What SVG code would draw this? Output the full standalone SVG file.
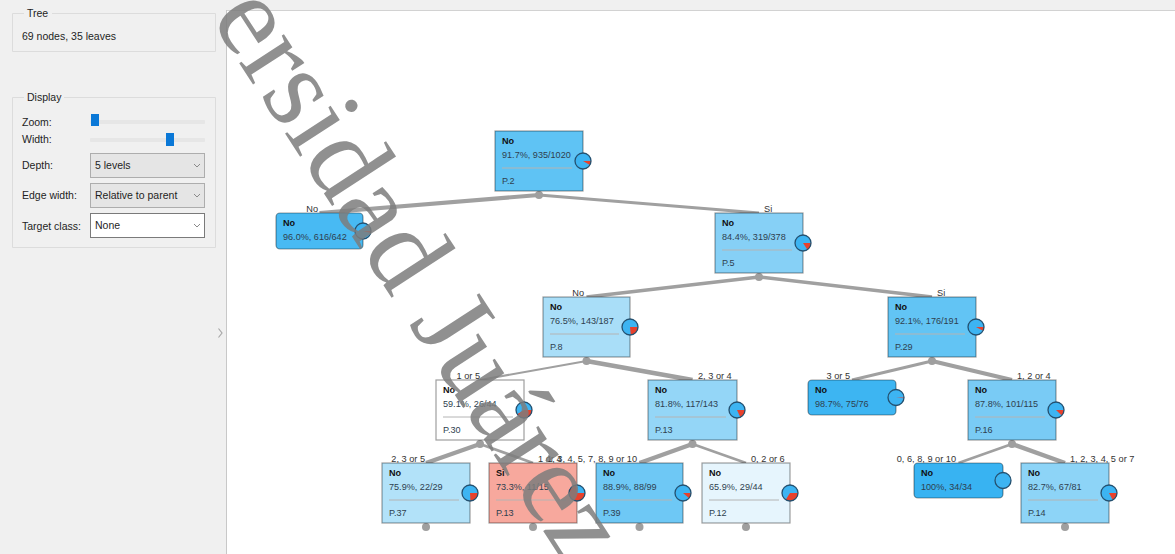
<svg xmlns="http://www.w3.org/2000/svg" width="1175" height="554" viewBox="0 0 1175 554">
<defs>
<style>
.ui{font-family:"Liberation Sans",Arial,sans-serif;font-size:10.5px;fill:#1e1e1e}
.grp{fill:none;stroke:#dcdcdc;stroke-width:1}
.combo{fill:#e5e5e5;stroke:#adadad;stroke-width:1}
.chev{fill:none;stroke:#8a8a8a;stroke-width:1}
.track{fill:#e6e6e6}
.handle{fill:#0a78d7}
.box{stroke:#000;stroke-opacity:0.38;stroke-width:1.2}
.t{font-family:"Liberation Sans",Arial,sans-serif;font-size:9.1px;fill:#2f3f4f}
.tb{font-family:"Liberation Sans",Arial,sans-serif;font-size:9.1px;font-weight:bold;fill:#111}
.sep{stroke:#b4b4b4;stroke-width:1}
.pie{fill:#3db4f2}
.wedge{fill:#e8412c}
.ring{fill:none;stroke:#24506f;stroke-width:1.3}
.edge{stroke:#a0a0a0;stroke-linecap:butt;fill:none}
.dot{fill:#9f9f9f}
.lbl{font-family:"Liberation Sans",Arial,sans-serif;font-size:9.2px;fill:#333}
</style>
</defs>
<rect x="0" y="0" width="1175" height="554" fill="#ffffff"/>
<!-- left panel -->
<g id="panel">
<rect x="0" y="0" width="227" height="554" fill="#f0f0f0"/>
<rect x="227" y="0" width="948" height="10" fill="#f0f0f0"/>
<line x1="227" y1="10.5" x2="1175" y2="10.5" stroke="#d2d2d2"/>
<line x1="226.5" y1="10" x2="226.5" y2="554" stroke="#c8c8c8"/>
<path d="M218.5,328.5 L222,333 L218.5,337.5" fill="none" stroke="#a8a8a8" stroke-width="1.2"/>
<path class="grp" d="M24,13.5 H12.5 V51.5 H215.5 V13.5 H52"/>
<text class="ui" x="27" y="17">Tree</text>
<text class="ui" x="22" y="40">69 nodes, 35 leaves</text>
<path class="grp" d="M24,97.5 H12.5 V247.5 H215.5 V97.5 H64"/>
<text class="ui" x="27" y="101">Display</text>
<text class="ui" x="22" y="126">Zoom:</text>
<rect class="track" x="90" y="120" width="115" height="4" rx="1"/>
<rect class="handle" x="91" y="114" width="8" height="12"/>
<text class="ui" x="22" y="143">Width:</text>
<rect class="track" x="90" y="138" width="115" height="4" rx="1"/>
<rect class="handle" x="166" y="133" width="8" height="13"/>
<text class="ui" x="22" y="169">Depth:</text>
<rect class="combo" x="90.5" y="153.5" width="114" height="24"/>
<text class="ui" x="95" y="169">5 levels</text>
<path class="chev" d="M194,164 L197,167 L200,164"/>
<text class="ui" x="22" y="199">Edge width:</text>
<rect class="combo" x="90.5" y="183.5" width="114" height="24"/>
<text class="ui" x="95" y="199">Relative to parent</text>
<path class="chev" d="M194,194 L197,197 L200,194"/>
<text class="ui" x="22" y="230">Target class:</text>
<rect x="90.5" y="213.5" width="114" height="24" fill="#ffffff" stroke="#7a7a7a"/>
<text class="ui" x="95" y="229">None</text>
<path class="chev" d="M194,224 L197,227 L200,224"/>
</g>
<!-- connectors -->
<g id="connectors">
<line class="edge" x1="539" y1="195" x2="319.5" y2="213" stroke-width="4.1"/>
<line class="edge" x1="539" y1="195" x2="759" y2="213" stroke-width="2.9"/>
<line class="edge" x1="759" y1="277" x2="586.5" y2="297" stroke-width="3.5"/>
<line class="edge" x1="759" y1="277" x2="932" y2="297" stroke-width="3.5"/>
<line class="edge" x1="586.5" y1="361" x2="480" y2="380" stroke-width="2.2"/>
<line class="edge" x1="586.5" y1="361" x2="692.5" y2="380" stroke-width="4.8"/>
<line class="edge" x1="932" y1="361" x2="852" y2="380" stroke-width="3"/>
<line class="edge" x1="932" y1="361" x2="1012" y2="380" stroke-width="4"/>
<line class="edge" x1="480" y1="444" x2="426" y2="463" stroke-width="4.3"/>
<line class="edge" x1="480" y1="444" x2="533" y2="463" stroke-width="2.7"/>
<line class="edge" x1="692.5" y1="444" x2="639.5" y2="463" stroke-width="4.5"/>
<line class="edge" x1="692.5" y1="444" x2="746" y2="463" stroke-width="2.5"/>
<line class="edge" x1="1012" y1="444" x2="958.5" y2="463" stroke-width="2.5"/>
<line class="edge" x1="1012" y1="444" x2="1065" y2="463" stroke-width="4.5"/>
<circle class="dot" cx="539" cy="195" r="4"/>
<circle class="dot" cx="759" cy="277" r="4"/>
<circle class="dot" cx="586.5" cy="361" r="4"/>
<circle class="dot" cx="932" cy="361" r="4"/>
<circle class="dot" cx="480" cy="444" r="4"/>
<circle class="dot" cx="692.5" cy="444" r="4"/>
<circle class="dot" cx="1012" cy="444" r="4"/>
<circle class="dot" cx="426" cy="527" r="4"/>
<circle class="dot" cx="533" cy="527" r="4"/>
<circle class="dot" cx="639.5" cy="527" r="4"/>
<circle class="dot" cx="746" cy="527" r="4"/>
<circle class="dot" cx="1065" cy="527" r="4"/>
<text class="lbl" x="318" y="211.5" text-anchor="end">No</text>
<text class="lbl" x="764" y="211.5">Si</text>
<text class="lbl" x="584" y="295.5" text-anchor="end">No</text>
<text class="lbl" x="937" y="295.5">Si</text>
<text class="lbl" x="480" y="378.5" text-anchor="end">1 or 5</text>
<text class="lbl" x="698" y="378.5">2, 3 or 4</text>
<text class="lbl" x="850" y="378.5" text-anchor="end">3 or 5</text>
<text class="lbl" x="1017" y="378.5">1, 2 or 4</text>
<text class="lbl" x="425" y="461.5" text-anchor="end">2, 3 or 5</text>
<text class="lbl" x="538" y="461.5">1 or 4</text>
<text class="lbl" x="637" y="461.5" text-anchor="end">1, 3, 4, 5, 7, 8, 9 or 10</text>
<text class="lbl" x="751" y="461.5">0, 2 or 6</text>
<text class="lbl" x="956" y="461.5" text-anchor="end">0, 6, 8, 9 or 10</text>
<text class="lbl" x="1070" y="461.5">1, 2, 3, 4, 5 or 7</text>
</g>
<!-- nodes -->
<g id="n-p2">
<rect class="box" x="495" y="131" width="88" height="60" fill="#5fc3f4"/>
<text class="tb" x="502" y="144">No</text>
<text class="t" x="502" y="158">91.7%, 935/1020</text>
<line class="sep" x1="502" y1="168" x2="572" y2="168"/>
<text class="t" x="502" y="184">P.2</text>
<circle class="pie" cx="583" cy="161" r="8"/>
<path class="wedge" d="M583,161 L591,161 A8,8 0 0 1 589.93,164.99 Z"/>
<circle class="ring" cx="583" cy="161" r="8"/>
</g>
<g id="n-leaf-616">
<rect class="box" x="276" y="213" width="87" height="36" rx="4" fill="#48baf3"/>
<text class="tb" x="283" y="226">No</text>
<text class="t" x="283" y="240">96.0%, 616/642</text>
<circle class="pie" cx="363" cy="231" r="8"/>
<path class="wedge" d="M363,231 L371,231 A8,8 0 0 1 370.75,232.99 Z"/>
<circle class="ring" cx="363" cy="231" r="8"/>
</g>
<g id="n-p5">
<rect class="box" x="715" y="213" width="88" height="60" fill="#86d0f6"/>
<text class="tb" x="722" y="226">No</text>
<text class="t" x="722" y="240">84.4%, 319/378</text>
<line class="sep" x1="722" y1="250" x2="792" y2="250"/>
<text class="t" x="722" y="266">P.5</text>
<circle class="pie" cx="803" cy="243" r="8"/>
<path class="wedge" d="M803,243 L811,243 A8,8 0 0 1 807.45,249.65 Z"/>
<circle class="ring" cx="803" cy="243" r="8"/>
</g>
<g id="n-p8">
<rect class="box" x="543" y="297" width="87" height="60" fill="#a9def8"/>
<text class="tb" x="550" y="310">No</text>
<text class="t" x="550" y="324">76.5%, 143/187</text>
<line class="sep" x1="550" y1="334" x2="619" y2="334"/>
<text class="t" x="550" y="350">P.8</text>
<circle class="pie" cx="630" cy="327" r="8"/>
<path class="wedge" d="M630,327 L638,327 A8,8 0 0 1 630.75,334.96 Z"/>
<circle class="ring" cx="630" cy="327" r="8"/>
</g>
<g id="n-p29">
<rect class="box" x="888" y="297" width="88" height="60" fill="#62c4f4"/>
<text class="tb" x="895" y="310">No</text>
<text class="t" x="895" y="324">92.1%, 176/191</text>
<line class="sep" x1="895" y1="334" x2="965" y2="334"/>
<text class="t" x="895" y="350">P.29</text>
<circle class="pie" cx="976" cy="327" r="8"/>
<path class="wedge" d="M976,327 L984,327 A8,8 0 0 1 983.03,330.81 Z"/>
<circle class="ring" cx="976" cy="327" r="8"/>
</g>
<g id="n-p30">
<rect class="box" x="436" y="380" width="88" height="60" fill="#ffffff"/>
<text class="tb" x="443" y="393">No</text>
<text class="t" x="443" y="407">59.1%, 26/44</text>
<line class="sep" x1="443" y1="417" x2="513" y2="417"/>
<text class="t" x="443" y="433">P.30</text>
<circle class="pie" cx="524" cy="410" r="8"/>
<path class="wedge" d="M524,410 L532,410 A8,8 0 0 1 517.28,414.33 Z"/>
<circle class="ring" cx="524" cy="410" r="8"/>
</g>
<g id="n-p13a">
<rect class="box" x="648" y="380" width="89" height="60" fill="#94d6f7"/>
<text class="tb" x="655" y="393">No</text>
<text class="t" x="655" y="407">81.8%, 117/143</text>
<line class="sep" x1="655" y1="417" x2="726" y2="417"/>
<text class="t" x="655" y="433">P.13</text>
<circle class="pie" cx="737" cy="410" r="8"/>
<path class="wedge" d="M737,410 L745,410 A8,8 0 0 1 740.32,417.28 Z"/>
<circle class="ring" cx="737" cy="410" r="8"/>
</g>
<g id="n-leaf-75">
<rect class="box" x="808" y="380" width="88" height="35" rx="4" fill="#3db5f2"/>
<text class="tb" x="815" y="393">No</text>
<text class="t" x="815" y="407">98.7%, 75/76</text>
<circle class="pie" cx="896" cy="397.5" r="8"/>
<path class="wedge" d="M896,397.5 L904,397.5 A8,8 0 0 1 903.97,398.16 Z"/>
<circle class="ring" cx="896" cy="397.5" r="8"/>
</g>
<g id="n-p16">
<rect class="box" x="968" y="380" width="88" height="60" fill="#79cbf5"/>
<text class="tb" x="975" y="393">No</text>
<text class="t" x="975" y="407">87.8%, 101/115</text>
<line class="sep" x1="975" y1="417" x2="1045" y2="417"/>
<text class="t" x="975" y="433">P.16</text>
<circle class="pie" cx="1056" cy="410" r="8"/>
<path class="wedge" d="M1056,410 L1064,410 A8,8 0 0 1 1061.76,415.55 Z"/>
<circle class="ring" cx="1056" cy="410" r="8"/>
</g>
<g id="n-p37">
<rect class="box" x="382" y="463" width="88" height="60" fill="#b2e2f9"/>
<text class="tb" x="389" y="476">No</text>
<text class="t" x="389" y="490">75.9%, 22/29</text>
<line class="sep" x1="389" y1="500" x2="459" y2="500"/>
<text class="t" x="389" y="516">P.37</text>
<circle class="pie" cx="470" cy="493" r="8"/>
<path class="wedge" d="M470,493 L478,493 A8,8 0 0 1 470.45,500.99 Z"/>
<circle class="ring" cx="470" cy="493" r="8"/>
</g>
<g id="n-p13b">
<rect class="box" x="489" y="463" width="88" height="60" fill="#f7a89d"/>
<text class="tb" x="496" y="476">Si</text>
<text class="t" x="496" y="490">73.3%, 11/15</text>
<line class="sep" x1="496" y1="500" x2="566" y2="500"/>
<text class="t" x="496" y="516">P.13</text>
<circle class="pie" cx="577" cy="493" r="8"/>
<path class="wedge" d="M577,493 L585,493 A8,8 0 1 1 576.16,485.04 Z"/>
<circle class="ring" cx="577" cy="493" r="8"/>
</g>
<g id="n-p39">
<rect class="box" x="596" y="463" width="87" height="60" fill="#6ec8f5"/>
<text class="tb" x="603" y="476">No</text>
<text class="t" x="603" y="490">88.9%, 88/99</text>
<line class="sep" x1="603" y1="500" x2="672" y2="500"/>
<text class="t" x="603" y="516">P.39</text>
<circle class="pie" cx="683" cy="493" r="8"/>
<path class="wedge" d="M683,493 L691,493 A8,8 0 0 1 689.13,498.14 Z"/>
<circle class="ring" cx="683" cy="493" r="8"/>
</g>
<g id="n-p12">
<rect class="box" x="702" y="463" width="88" height="60" fill="#e6f5fd"/>
<text class="tb" x="709" y="476">No</text>
<text class="t" x="709" y="490">65.9%, 29/44</text>
<line class="sep" x1="709" y1="500" x2="779" y2="500"/>
<text class="t" x="709" y="516">P.12</text>
<circle class="pie" cx="790" cy="493" r="8"/>
<path class="wedge" d="M790,493 L798,493 A8,8 0 0 1 785.68,499.73 Z"/>
<circle class="ring" cx="790" cy="493" r="8"/>
</g>
<g id="n-leaf-34">
<rect class="box" x="914" y="463" width="89" height="35" rx="4" fill="#38b3f2"/>
<text class="tb" x="921" y="476">No</text>
<text class="t" x="921" y="490">100%, 34/34</text>
<circle class="pie" cx="1003" cy="480.5" r="8"/>
<circle class="ring" cx="1003" cy="480.5" r="8"/>
</g>
<g id="n-p14">
<rect class="box" x="1021" y="463" width="88" height="60" fill="#8dd4f7"/>
<text class="tb" x="1028" y="476">No</text>
<text class="t" x="1028" y="490">82.7%, 67/81</text>
<line class="sep" x1="1028" y1="500" x2="1098" y2="500"/>
<text class="t" x="1028" y="516">P.14</text>
<circle class="pie" cx="1109" cy="493" r="8"/>
<path class="wedge" d="M1109,493 L1117,493 A8,8 0 0 1 1112.73,500.08 Z"/>
<circle class="ring" cx="1109" cy="493" r="8"/>
</g>
<!-- watermark -->
<text x="0" y="0" transform="translate(210,18) rotate(57)" font-family="'Liberation Serif','Times New Roman',serif" font-size="116" fill="#7d7d7d" fill-opacity="0.85">ersidad Juárez</text>
</svg>
